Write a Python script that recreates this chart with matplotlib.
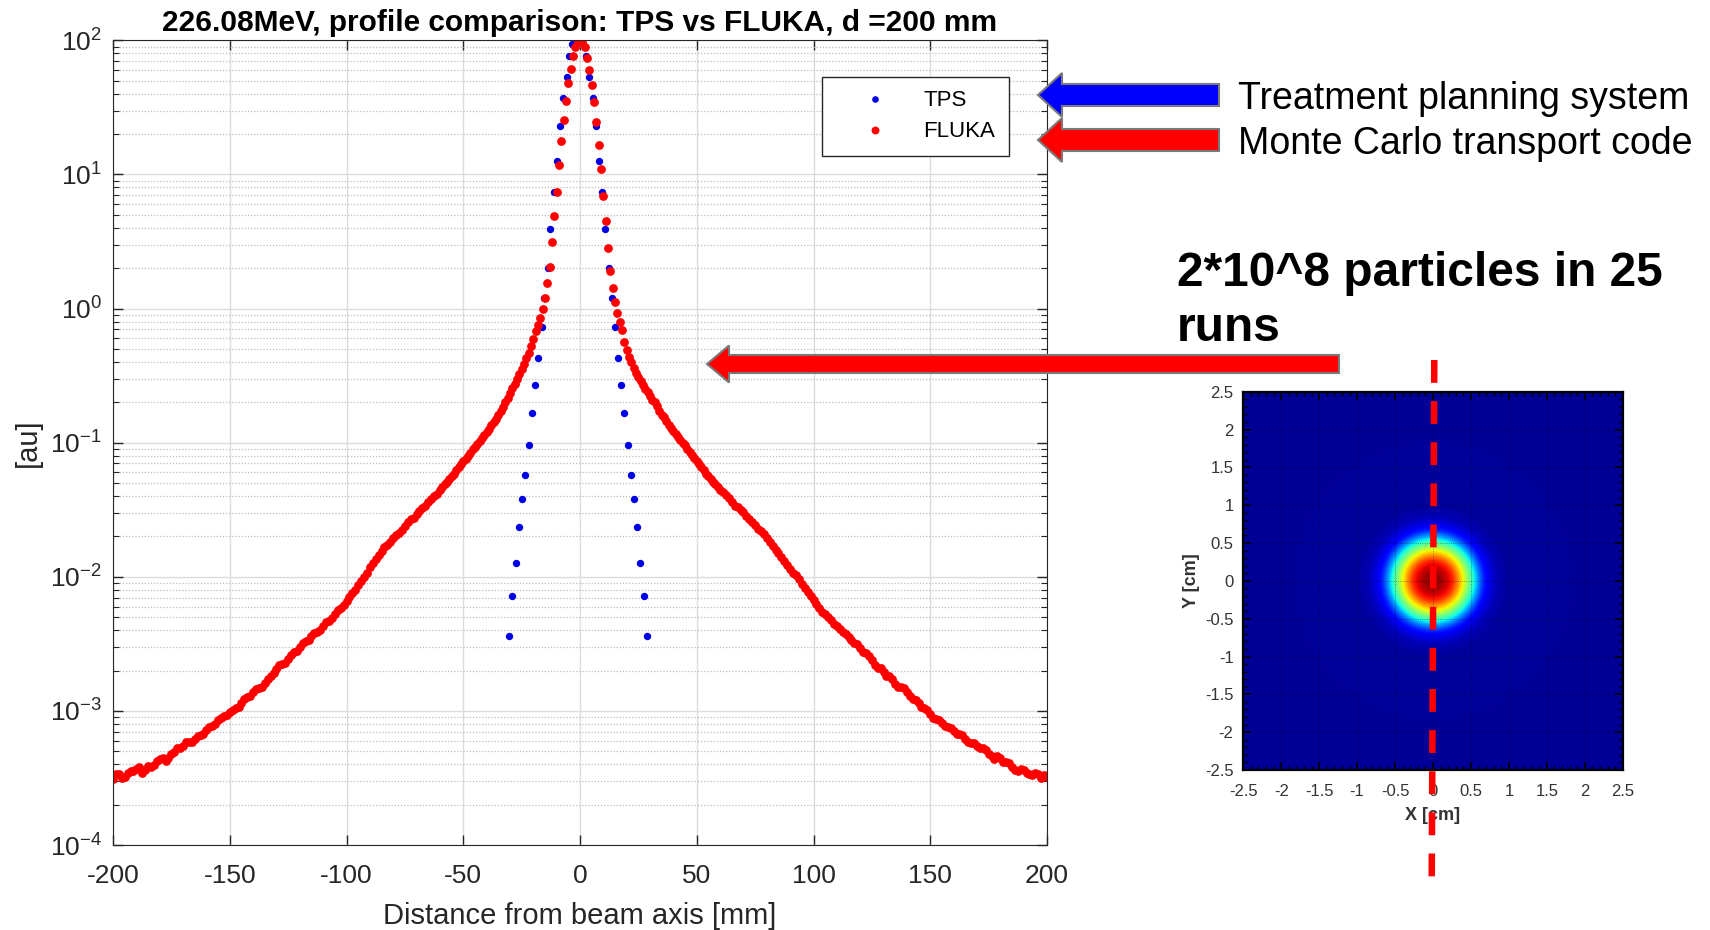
import numpy as np
import matplotlib
matplotlib.use('Agg')
import matplotlib.pyplot as plt
from matplotlib.patches import FancyArrow
from matplotlib.ticker import LogLocator, MultipleLocator, FormatStrFormatter, FixedLocator

plt.rcParams['font.family'] = ['Liberation Sans', 'DejaVu Sans']
plt.rcParams['mathtext.fontset'] = 'custom'
plt.rcParams['mathtext.rm'] = 'Liberation Sans'
plt.rcParams['mathtext.it'] = 'Liberation Sans:italic'
plt.rcParams['mathtext.bf'] = 'Liberation Sans:bold'
plt.rcParams['axes.unicode_minus'] = False

# TPS profile, x [mm] and log10 of dose [au]
tps_x = [-30.3, -29.0, -27.5, -26.3, -24.8, -23.4, -22.0, -20.7, -19.3, -18.0,
         -16.4, -15.3, -13.8, -12.7, -11.1, -9.9, -8.6, -7.2, -5.7, -4.6,
         -3.6, -1.4,
         2.6, 4.0, 5.4, 6.9, 8.1, 9.6, 10.8, 12.3, 13.6, 14.9,
         16.1, 17.7, 19.0, 20.4, 21.8, 23.1, 24.5, 25.8, 27.3, 28.8]
tps_log = [-2.44, -2.14, -1.90, -1.63, -1.42, -1.24, -1.02, -0.78, -0.57, -0.37,
           -0.14, 0.08, 0.30, 0.59, 0.87, 1.10, 1.36, 1.57, 1.73, 1.88,
           1.97, 2.00,
           1.88, 1.73, 1.57, 1.36, 1.10, 0.87, 0.59, 0.30, 0.08, -0.14,
           -0.37, -0.57, -0.78, -1.02, -1.24, -1.42, -1.63, -1.90, -2.14, -2.44]

# FLUKA profile: left tail, central part (1 mm bins), right tail
fluka_x_left = [-200, -197.5, -195, -192.5, -190, -187.5, -185, -182.5, -180, -177.5,
                -175, -172.5, -170, -167.5, -165, -162.5, -160, -157.5, -155, -152.5,
                -150, -147.5, -145, -142.5, -140, -137.5, -135, -132.5, -130, -127.5,
                -125, -122.5, -120, -117.5, -115, -112.5, -110, -107.5, -105, -102.5,
                -100, -97.5, -95, -92.5, -90, -87.5, -85, -82.5, -80, -77.5,
                -75, -72.5, -70, -67.5, -65, -62.5]
fluka_log_left = [-3.51, -3.47, -3.49, -3.45, -3.43, -3.46, -3.41, -3.40, -3.36, -3.37,
                  -3.32, -3.28, -3.26, -3.23, -3.21, -3.18, -3.14, -3.11, -3.07, -3.04,
                  -3.01, -2.98, -2.94, -2.90, -2.86, -2.83, -2.79, -2.74, -2.69, -2.65,
                  -2.61, -2.56, -2.52, -2.48, -2.44, -2.41, -2.37, -2.33, -2.28, -2.23,
                  -2.18, -2.12, -2.06, -2.00, -1.93, -1.87, -1.81, -1.76, -1.71, -1.67,
                  -1.62, -1.57, -1.53, -1.49, -1.44, -1.40]
fluka_x_left2 = [-198.75, -196.25, -193.75, -191.25, -188.75, -186.25, -183.75, -181.25,
                 -178.75, -176.25, -173.75, -171.25, -168.75, -166.25, -163.75, -161.25,
                 -158.75, -156.25, -153.75, -151.25, -148.75, -146.25, -143.75, -141.25,
                 -138.75, -136.25, -133.75, -131.25, -128.75, -126.25, -123.75, -121.25,
                 -118.75, -116.25, -113.75, -111.25, -108.75, -106.25, -103.75, -101.25,
                 -98.75, -96.25, -93.75, -91.25, -88.75, -86.25, -83.75, -81.25,
                 -78.75, -76.25, -73.75, -71.25, -68.75, -66.25, -63.75, -61.25]
fluka_log_left2 = [-3.47, -3.50, -3.46, -3.45, -3.42, -3.44, -3.42, -3.37,
                   -3.35, -3.35, -3.31, -3.28, -3.23, -3.23, -3.19, -3.17,
                   -3.12, -3.10, -3.05, -3.03, -2.99, -2.97, -2.91, -2.89,
                   -2.84, -2.82, -2.76, -2.72, -2.66, -2.64, -2.58, -2.55,
                   -2.49, -2.47, -2.42, -2.40, -2.34, -2.31, -2.25, -2.21,
                   -2.15, -2.10, -2.03, -1.97, -1.90, -1.84, -1.78, -1.74,
                   -1.69, -1.65, -1.59, -1.56, -1.51, -1.47, -1.42, -1.38]
fluka_x_mid = [-60, -59, -58, -57, -56, -55, -54, -53, -52, -51,
               -50, -49, -48, -47, -46, -45, -44, -43, -42, -41,
               -40, -39, -38, -37, -36, -35, -34, -33, -32, -31,
               -30, -29, -28, -27, -26, -25, -24, -23, -22, -21,
               -20, -19, -18, -17, -16, -15, -14, -13, -12, -11,
               -10, -9, -8, -7, -6, -5, -4, -3, -2, -1,
               0, 1, 2, 3, 4, 5, 6, 7, 8, 9,
               10, 11, 12, 13, 14, 15, 16, 17, 18, 19,
               20, 21, 22, 23, 24, 25, 26, 27, 28, 29,
               30, 31, 32, 33, 34, 35, 36, 37, 38, 39,
               40, 41, 42, 43, 44, 45, 46, 47, 48, 49,
               50, 51, 52, 53, 54, 55, 56, 57, 58, 59, 60]
fluka_log_mid = [-1.35, -1.33, -1.31, -1.29, -1.27, -1.25, -1.23, -1.205, -1.18, -1.16,
                 -1.14, -1.12, -1.10, -1.075, -1.05, -1.03, -1.01, -0.99, -0.965, -0.94,
                 -0.92, -0.895, -0.87, -0.845, -0.82, -0.79, -0.765, -0.735, -0.70, -0.665,
                 -0.63, -0.595, -0.56, -0.525, -0.49, -0.45, -0.41, -0.37, -0.33, -0.28,
                 -0.23, -0.17, -0.12, -0.07, 0.00, 0.08, 0.19, 0.31, 0.50, 0.69,
                 0.87, 1.07, 1.25, 1.41, 1.55, 1.68, 1.79, 1.88, 1.95, 1.99,
                 2.00, 1.99, 1.95, 1.87, 1.78, 1.67, 1.54, 1.39, 1.22, 1.04,
                 0.84, 0.65, 0.45, 0.28, 0.15, 0.05, -0.03, -0.10, -0.16, -0.25,
                 -0.31, -0.36, -0.40, -0.44, -0.48, -0.51, -0.54, -0.57, -0.60, -0.625,
                 -0.65, -0.68, -0.70, -0.73, -0.76, -0.79, -0.81, -0.84, -0.865, -0.89,
                 -0.91, -0.935, -0.96, -0.98, -1.00, -1.02, -1.045, -1.07, -1.09, -1.115,
                 -1.14, -1.16, -1.18, -1.20, -1.23, -1.25, -1.27, -1.29, -1.31, -1.33, -1.35]
fluka_x_right = [62.5, 65, 67.5, 70, 72.5,
                 75, 77.5, 80, 82.5, 85, 87.5, 90, 92.5, 95, 97.5,
                 100, 102.5, 105, 107.5, 110, 112.5, 115, 117.5, 120, 122.5,
                 125, 127.5, 130, 132.5, 135, 137.5, 140, 142.5, 145, 147.5,
                 150, 152.5, 155, 157.5, 160, 162.5, 165, 167.5, 170, 172.5,
                 175, 177.5, 180, 182.5, 185, 187.5, 190, 192.5, 195, 197.5, 200]
fluka_log_right = [-1.39, -1.44, -1.48, -1.52, -1.57,
                   -1.61, -1.66, -1.71, -1.77, -1.82, -1.88, -1.94, -1.99, -2.05, -2.11,
                   -2.17, -2.23, -2.28, -2.32, -2.37, -2.41, -2.45, -2.49, -2.53, -2.57,
                   -2.62, -2.68, -2.71, -2.74, -2.80, -2.82, -2.86, -2.91, -2.94, -2.98,
                   -3.02, -3.06, -3.09, -3.12, -3.15, -3.17, -3.21, -3.24, -3.26, -3.28,
                   -3.32, -3.36, -3.35, -3.38, -3.42, -3.45, -3.44, -3.47, -3.46, -3.50, -3.49]
fluka_x_right2 = [61.25, 63.75, 66.25, 68.75, 71.25, 73.75, 76.25, 78.75,
                  81.25, 83.75, 86.25, 88.75, 91.25, 93.75, 96.25, 98.75,
                  101.25, 103.75, 106.25, 108.75, 111.25, 113.75, 116.25, 118.75,
                  121.25, 123.75, 126.25, 128.75, 131.25, 133.75, 136.25, 138.75,
                  141.25, 143.75, 146.25, 148.75, 151.25, 153.75, 156.25, 158.75,
                  161.25, 163.75, 166.25, 168.75, 171.25, 173.75, 176.25, 178.75,
                  181.25, 183.75, 186.25, 188.75, 191.25, 193.75, 196.25, 198.75]
fluka_log_right2 = [-1.37, -1.41, -1.47, -1.50, -1.55, -1.59, -1.64, -1.68,
                    -1.74, -1.80, -1.85, -1.91, -1.97, -2.02, -2.08, -2.14,
                    -2.20, -2.26, -2.30, -2.35, -2.39, -2.43, -2.47, -2.50,
                    -2.56, -2.59, -2.66, -2.68, -2.74, -2.76, -2.82, -2.83,
                    -2.89, -2.92, -2.97, -2.99, -3.05, -3.07, -3.11, -3.13,
                    -3.17, -3.18, -3.23, -3.24, -3.28, -3.29, -3.34, -3.34,
                    -3.38, -3.39, -3.44, -3.43, -3.46, -3.48, -3.47, -3.48]

# inset beam spot: radial colour profile read along X [cm]
heat_r = [0.0, 0.11, 0.18, 0.26, 0.33, 0.40, 0.46, 0.53, 0.59, 0.66, 0.73, 0.84, 1.0, 3.6]
heat_v = [1.0, 0.97, 0.93, 0.87, 0.76, 0.64, 0.52, 0.40, 0.28, 0.17, 0.10, 0.05, 0.025, 0.02]
spot_y_ratio = 1.0
inset_ticks = [-2.5, -2, -1.5, -1, -0.5, 0, 0.5, 1, 1.5, 2, 2.5]

title = '226.08MeV, profile comparison: TPS vs FLUKA, d =200 mm'

W, H = 1710, 930
fig = plt.figure(figsize=(W / 100, H / 100), dpi=100)

# main profile plot
ax = fig.add_axes([113 / W, 1 - 845 / H, 934 / W, 804.6 / H])
fx = fluka_x_left + fluka_x_left2 + fluka_x_mid + fluka_x_right2 + fluka_x_right
fy = 10 ** np.array(fluka_log_left + fluka_log_left2 + fluka_log_mid
                    + fluka_log_right2 + fluka_log_right)
ax.plot(tps_x, 10 ** np.array(tps_log), 'o', color='#0000e6', ms=5.3, mew=0, label='TPS')
ax.plot(fx, fy, 'o', color='#ff0000', ms=6.3, mew=0, label='FLUKA')
ax.set_yscale('log')
ax.set_xlim(-200, 200)
ax.set_ylim(1e-4, 1e2)
ax.xaxis.set_major_locator(MultipleLocator(50))
ax.yaxis.set_major_locator(LogLocator(base=10, numticks=10))
ax.yaxis.set_minor_locator(LogLocator(base=10, subs=np.arange(2, 10), numticks=100))
ax.grid(which='major', color='#dcdcdc', lw=1)
ax.grid(which='minor', axis='y', color='#bdbdbd', lw=0.9, ls=(0, (1, 1.5)))
ax.set_axisbelow(True)
ax.tick_params(which='both', direction='in', top=True, right=True,
               colors='#262626', labelsize=19)
ax.tick_params(which='major', length=7, width=1)
ax.tick_params(which='minor', length=4, width=0.8)
ax.tick_params(axis='x', pad=14)
ax.tick_params(axis='y', pad=8)
for s in ax.spines.values():
    s.set_color('#262626')
ax.set_title(title, fontsize=21.5, fontweight='bold', pad=7)
ax.set_xlabel('Distance from beam axis [mm]', fontsize=21, color='#262626')
ax.set_ylabel('[au]', fontsize=21, color='#262626')
ax.xaxis.set_label_coords(0.5, -0.071)
ax.yaxis.set_label_coords(-0.076, 0.5)

leg = ax.legend(loc='upper right', bbox_to_anchor=(0.959, 0.9545), fontsize=16,
                fancybox=False, edgecolor='#262626', framealpha=1, borderpad=0.6,
                handlelength=3.5, handletextpad=0.45, labelspacing=0.45,
                numpoints=1, borderaxespad=0, markerscale=0.9)
leg.get_frame().set_linewidth(1.0)

# inset: beam spot
axi = fig.add_axes([1243.3 / W, 1 - 770 / H, 379.4 / W, 378.3 / H])
g = np.linspace(-2.5, 2.5, 401)
X, Y = np.meshgrid(g, g)
Z = np.interp(np.hypot(X, Y / spot_y_ratio), heat_r, heat_v)
axi.imshow(Z, extent=[-2.5, 2.5, -2.5, 2.5], origin='lower', cmap='jet',
           vmin=0, vmax=1, interpolation='bilinear', aspect='auto')
axi.xaxis.set_major_locator(FixedLocator(inset_ticks))
axi.yaxis.set_major_locator(FixedLocator(inset_ticks))
axi.xaxis.set_major_formatter(FormatStrFormatter('%g'))
axi.yaxis.set_major_formatter(FormatStrFormatter('%g'))
axi.xaxis.set_minor_locator(MultipleLocator(0.1))
axi.yaxis.set_minor_locator(MultipleLocator(0.1))
axi.tick_params(which='both', direction='in', top=True, right=True, color='k',
                labelcolor='#333333', labelsize=12)
axi.tick_params(which='major', length=6, width=1.2)
axi.tick_params(which='minor', length=3, width=1)
axi.tick_params(axis='x', pad=10)
axi.tick_params(axis='y', pad=7)
axi.grid(color='k', ls=':', lw=0.6, alpha=0.5)
for s in axi.spines.values():
    s.set_linewidth(1.6)
axi.set_xlabel('X [cm]', fontsize=13, fontweight='bold', color='#333333')
axi.set_ylabel('Y [cm]', fontsize=13, fontweight='bold', color='#333333')
axi.xaxis.set_label_coords(0.5, -0.098)
axi.yaxis.set_label_coords(-0.115, 0.5)

# overlay in pixel coordinates for the slide annotations
ov = fig.add_axes([0, 0, 1, 1])
ov.set_xlim(0, W)
ov.set_ylim(H, 0)
ov.axis('off')

ov.add_patch(FancyArrow(1219, 95, 1038 - 1219, 0, width=22, head_width=44, head_length=24,
                        length_includes_head=True, fc='#0000ff', ec='#7a7a7a', lw=1.5))
ov.add_patch(FancyArrow(1219, 140, 1038 - 1219, 0, width=22, head_width=44, head_length=24,
                        length_includes_head=True, fc='#ff0000', ec='#7a7a7a', lw=1.5))
ov.add_patch(FancyArrow(1339, 364, 707 - 1339, 0, width=18, head_width=37, head_length=22,
                        length_includes_head=True, fc='#ff0000', ec='#7a7a7a', lw=1.5))
ov.plot([1434.3, 1431.7], [360, 885], color='#ff0000', lw=4.7, dashes=(3.5, 2.8))

ov.text(1238, 109, 'Treatment planning system', fontsize=27, va='baseline', ha='left')
ov.text(1238, 154, 'Monte Carlo transport code', fontsize=27, va='baseline', ha='left')
ov.text(1177, 286, '2*10^8 particles in 25', fontsize=34.5, fontweight='bold',
        va='baseline', ha='left')
ov.text(1177, 341, 'runs', fontsize=34.5, fontweight='bold', va='baseline', ha='left')

fig.savefig('out.png', dpi=100)
